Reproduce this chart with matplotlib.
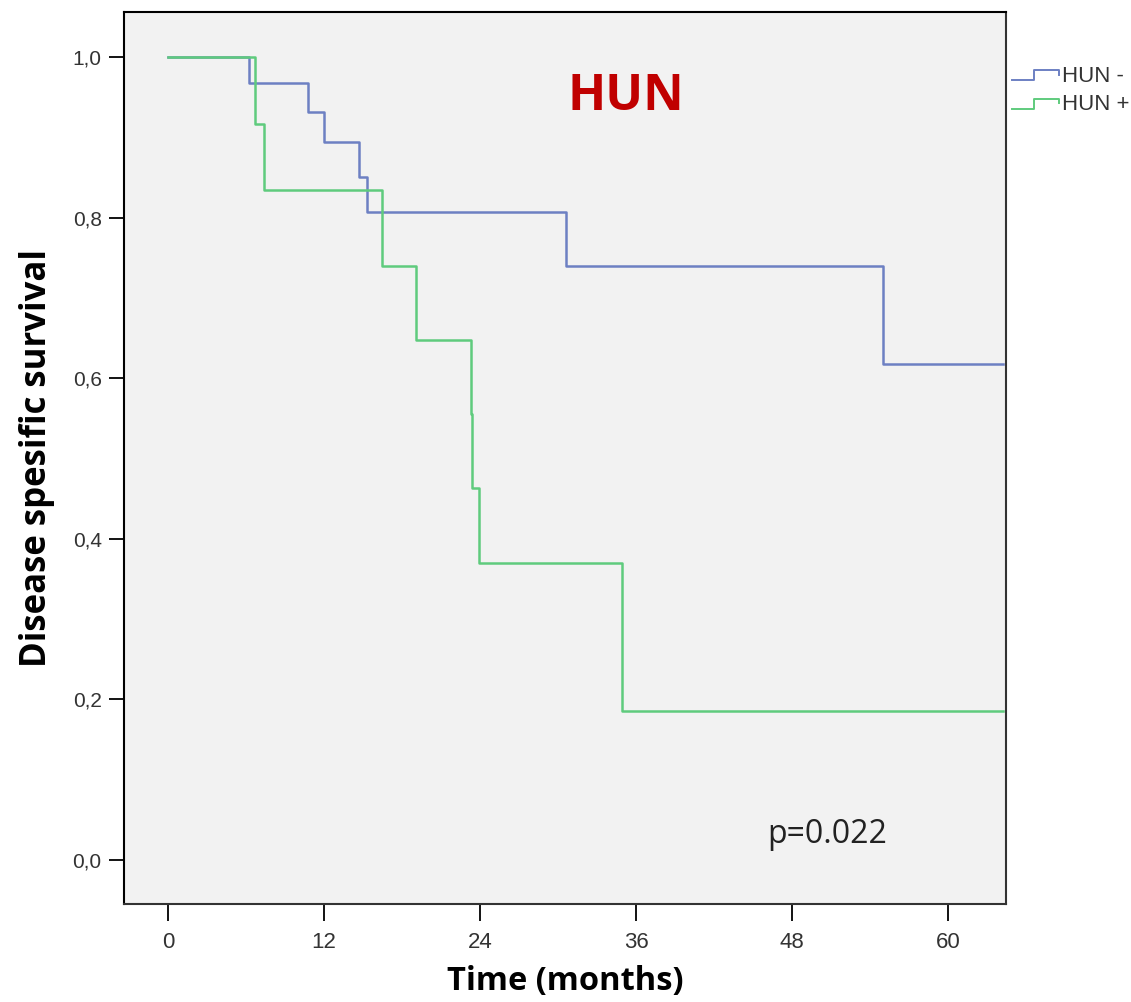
import matplotlib
matplotlib.use("Agg")
import matplotlib.pyplot as plt
from matplotlib.legend_handler import HandlerBase
from matplotlib.lines import Line2D

# Kaplan-Meier steps (months, survival)
neg_t = [0, 6.2, 10.8, 12.0, 14.7, 15.3, 30.6, 55.0, 64.2]
neg_s = [1.0, 0.968, 0.932, 0.894, 0.851, 0.807, 0.740, 0.618, 0.618]
pos_t = [0, 6.7, 7.4, 16.5, 19.1, 23.3, 23.4, 23.9, 34.9, 64.2]
pos_s = [1.0, 0.917, 0.834, 0.740, 0.648, 0.556, 0.463, 0.370, 0.186, 0.186]

labels = ["HUN -", "HUN +"]
colors = ["#6d80c3", "#5fcb7d"]
x_ticks = [0, 12, 24, 36, 48, 60]
y_ticks = [0.0, 0.2, 0.4, 0.6, 0.8, 1.0]


class StepHandler(HandlerBase):
    def create_artists(self, legend, orig, xd, yd, w, h, fontsize, trans):
        c = orig.get_color()
        xs = [xd, xd + w * 0.45, xd + w * 0.45, xd + w * 0.95, xd + w * 0.95]
        ys = [yd + h * 0.1, yd + h * 0.1, yd + h * 0.75, yd + h * 0.75, yd + h * 0.45]
        ln = Line2D(xs, ys, color=c, lw=1.4, transform=trans)
        return [ln]


fig = plt.figure(figsize=(11.31, 10.02), dpi=100)
ax = fig.add_axes([0.1096, 0.0978, 0.78, 0.890])
ax.set_facecolor("#f2f2f2")

h1, = ax.step(neg_t, neg_s, where="post", color=colors[0], lw=1.8, label=labels[0])
h2, = ax.step(pos_t, pos_s, where="post", color=colors[1], lw=1.8, label=labels[1])

ax.set_xlim(-3.38, 64.46)
ax.set_ylim(-0.0548, 1.056)
ax.set_xticks(x_ticks)
ax.set_xticklabels([str(v) for v in x_ticks])
ax.set_yticks(y_ticks)
ax.set_yticklabels([f"{v:.1f}".replace(".", ",") for v in y_ticks])

for s in ax.spines.values():
    s.set_linewidth(1.5)
    s.set_color("#333333")
ax.spines["top"].set_color("black")
ax.spines["left"].set_color("black")

ax.tick_params(axis="y", length=11, width=1.3, pad=5, labelsize=15, labelcolor="#333333",
               direction="out")
ax.tick_params(axis="x", length=12, width=1.3, pad=8, labelsize=16, labelcolor="#333333",
               direction="out")
for t in ax.get_xticklabels() + ax.get_yticklabels():
    t.set_family(["Liberation Sans", "DejaVu Sans"])

ax.set_xlabel("Time (months)", fontsize=23.5, fontweight="bold",
              family=["Open Sans", "DejaVu Sans"], labelpad=9)
ax.set_ylabel("Disease spesific survival", fontsize=25, fontweight="bold",
              family=["Open Sans", "DejaVu Sans"], labelpad=13)

ax.text(35.2, 0.95, "HUN", color="#c00000", fontsize=36, fontweight="bold",
        family=["Open Sans", "DejaVu Sans"], ha="center", va="center")
ax.text(50.7, 0.032, "p=0.022", color="#222222", fontsize=23,
        family=["Open Sans", "DejaVu Sans"], ha="center", va="center")

leg = ax.legend(handles=[h1, h2], labels=labels, handler_map={Line2D: StepHandler()},
                loc="upper left", bbox_to_anchor=(0.997, 0.95), frameon=False,
                fontsize=16, handlelength=2.2, handletextpad=0.05, labelspacing=0.35,
                borderaxespad=0)
for t in leg.get_texts():
    t.set_color("#333333")
    t.set_family(["Liberation Sans", "DejaVu Sans"])

fig.savefig("out.png", dpi=100)
